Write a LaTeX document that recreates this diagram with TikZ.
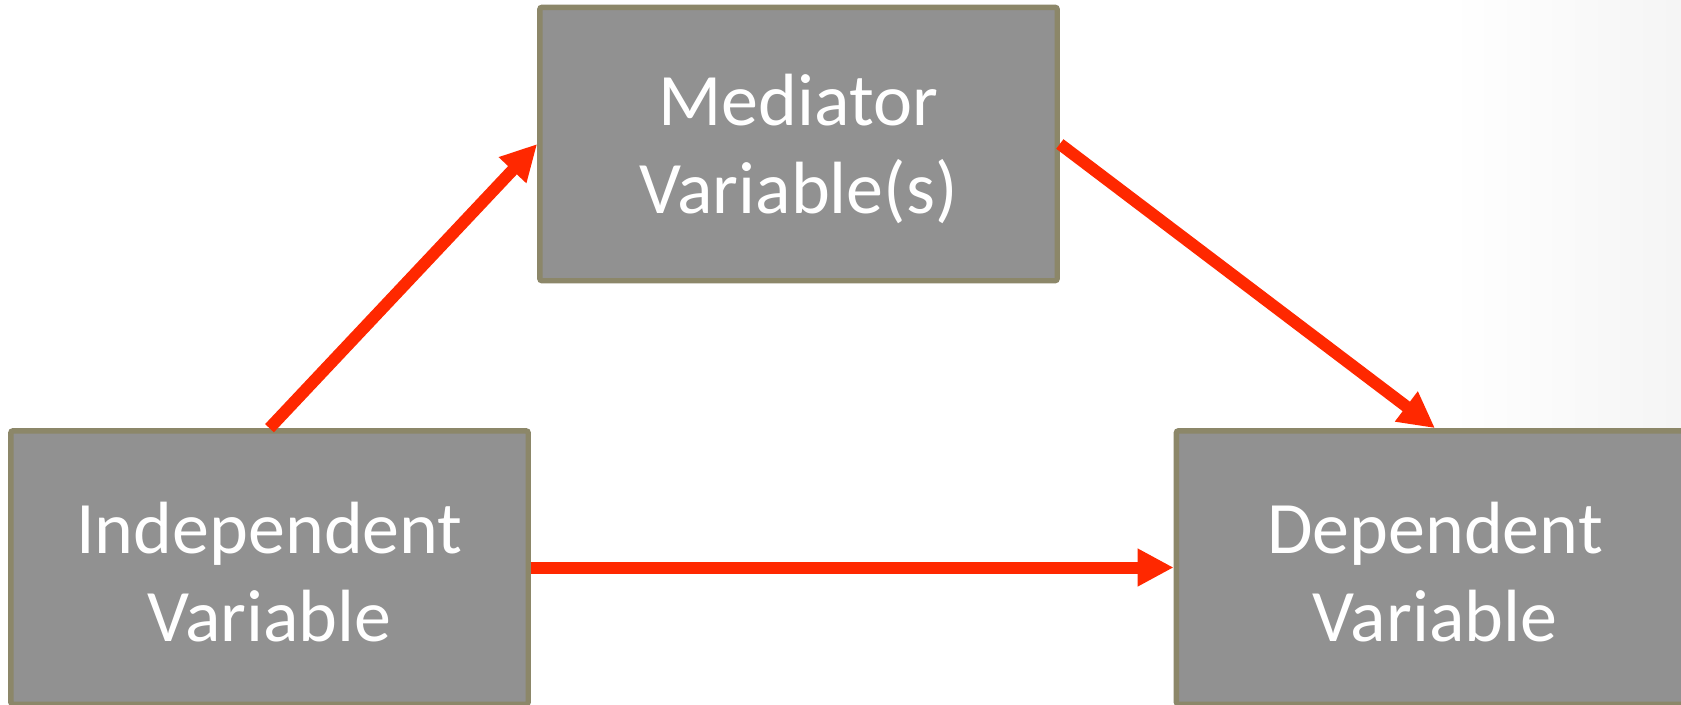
\documentclass[tikz,border=0pt]{standalone}
\usepackage{fontspec}
\setmainfont{Carlito}
\usetikzlibrary{arrows.meta}
\definecolor{boxfill}{HTML}{919191}
\definecolor{boxline}{HTML}{8C8769}
\definecolor{arrowred}{HTML}{FF2800}
\begin{document}
\begin{tikzpicture}[x=0.75pt,y=-0.75pt,
  varbox/.style={draw=boxline, fill=boxfill, line width=4pt, rounded corners=1.5pt,
    minimum width=388pt, minimum height=205pt, inner sep=0pt},
  varlabel/.style={inner sep=0pt, align=center, text=white,
    font=\fontsize{55.5}{66}\selectfont},
  link/.style={draw=arrowred, line width=9pt,
    -{Triangle[length=27pt,width=26.5pt]}}]
  % canvas and the faint shade along the right edge
  \useasboundingbox (0,0) rectangle (1681,704);
  \clip (0,0) rectangle (1681,704);
  \fill[white] (0,0) rectangle (1681,704);
  \shade[left color=white, right color=black!4] (1450,0) rectangle (1681,704);
  % the three variables
  \node[varbox] (med) at (798.5,144) {};
  \node[varbox] (ind) at (269.5,567.5) {};
  \node[varbox] (dep) at (1435,567.5) {};
  \node[varlabel] (medtext) at ([yshift=-3.5pt]med.center) {Mediator\\Variable(s)};
  \node[varlabel] (indtext) at ([yshift=-3.5pt]ind.center) {Independent\\Variable};
  \node[varlabel] (deptext) at ([yshift=-3.5pt]dep.center) {Dependent\\Variable};
  % causal paths
  \draw[link] (ind.north) -- (med.west);
  \draw[link] (med.east) -- (dep.north);
  \draw[link] (ind.east) -- (dep.west);
\end{tikzpicture}
\end{document}
